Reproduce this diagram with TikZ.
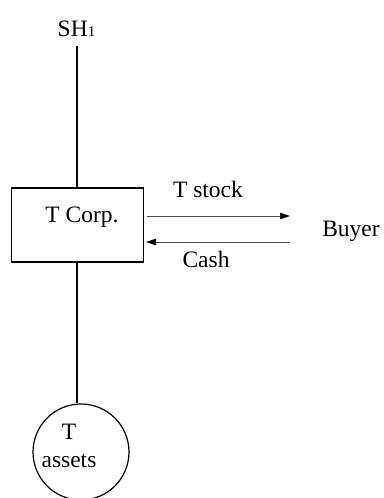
\documentclass[tikz,border=0pt]{standalone}
\usepackage{fontspec}
\setmainfont{Liberation Serif}
\usetikzlibrary{arrows.meta}
\begin{document}
\begin{tikzpicture}[x=1pt,y=-1pt,
  txt/.style={inner sep=0pt,anchor=base,font=\fontsize{23.5}{28}\selectfont},
  thick line/.style={line width=1.2pt,black},
  flow/.style={line width=0.6pt,black!70,-{Triangle[length=10pt,width=6.5pt,black]}}]
\useasboundingbox (0,0) rectangle (383,498);
\node[txt] (sh) at (76.5,36.7) {SH{\fontsize{15}{15}\selectfont 1}};
\coordinate (shbot) at (77,46);
\node[draw,thick line,minimum width=132pt,minimum height=74pt,inner sep=0pt] (corp) at (77.5,225) {};
\node[txt] (corplbl) at (82,222.7) {T Corp.};
\node[draw,thick line,circle,minimum size=96pt,inner sep=0pt] (assets) at (81,452) {};
\node[txt] (assetsT) at (69,439) {T};
\node[txt] (assetslbl) at (69,467) {assets};
\node[txt] (buyer) at (351,236) {Buyer};
\node[txt] (tstock) at (208,197.7) {T stock};
\node[txt] (cash) at (206,267) {Cash};
\coordinate (b1) at (290,216);
\coordinate (b2) at (290,242);
\coordinate (c1) at (147,216);
\coordinate (c2) at (146,242);
\draw[thick line] (shbot) -- (shbot |- corp.north);
\draw[thick line] (corp.south -| shbot) -- (shbot |- assets.north);
\draw[flow] (c1) -- (b1);
\draw[flow] (b2) -- (c2);
\end{tikzpicture}
\end{document}
